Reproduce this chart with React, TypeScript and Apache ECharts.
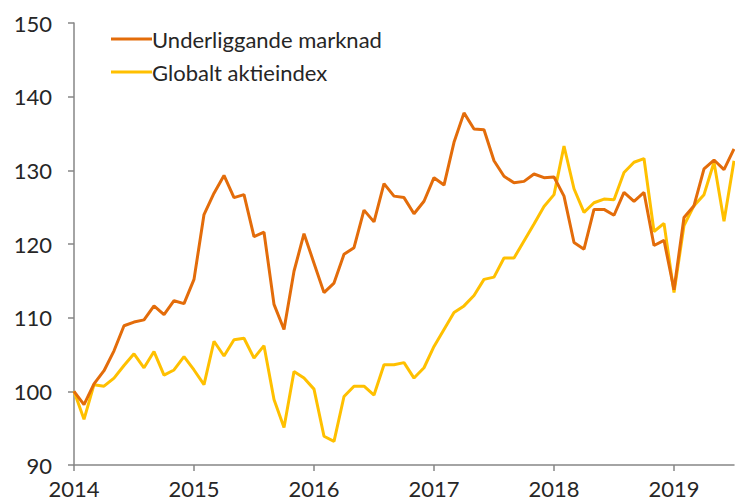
import React, { useEffect, useRef } from "react";
import * as echarts from "echarts";

const years = [2014, 2015, 2016, 2017, 2018, 2019];
const months: string[] = [];
for (let y = 2014; y <= 2019; y++) {
  for (let m = 1; m <= 12; m++) {
    if (y === 2019 && m > 7) break;
    months.push(`${y}-${String(m).padStart(2, "0")}`);
  }
}

const seriesNames = ["Underliggande marknad", "Globalt aktieindex"];

const underliggande = [
  100, 98.2, 101, 102.8, 105.5, 108.9, 109.4, 109.7, 111.6, 110.4, 112.3, 111.9,
  115.2, 124.0, 126.9, 129.3, 126.3, 126.7, 121.0, 121.6, 111.8, 108.4, 116.3, 121.4,
  117.4, 113.4, 114.7, 118.6, 119.5, 124.6, 123.0, 128.2, 126.5, 126.3, 124.1, 125.8,
  129.0, 128.0, 133.8, 137.8, 135.6, 135.5, 131.3, 129.2, 128.3, 128.5, 129.5, 129.0,
  129.1, 126.5, 120.2, 119.3, 124.7, 124.7, 123.9, 127.0, 125.8, 127.0, 119.8, 120.5,
  113.8, 123.6, 125.2, 130.2, 131.4, 130.1, 132.9,
];

const globalt = [
  100, 96.2, 100.9, 100.7, 101.8, 103.5, 105.1, 103.2, 105.4, 102.2, 102.9, 104.7,
  102.9, 100.9, 106.8, 104.8, 107.0, 107.2, 104.5, 106.2, 98.9, 95.1, 102.7, 101.8,
  100.3, 93.9, 93.2, 99.3, 100.7, 100.7, 99.5, 103.6, 103.6, 103.9, 101.8, 103.2,
  106.1, 108.4, 110.7, 111.6, 113.0, 115.2, 115.5, 118.1, 118.1, 120.4, 122.7, 125.1,
  126.7, 133.3, 127.5, 124.3, 125.6, 126.1, 126.0, 129.7, 131.1, 131.6, 121.7, 122.8,
  113.4, 122.5, 125.2, 126.7, 131.1, 123.1, 131.3,
];

const FONT = "Lato";
const TEXT_COLOR = "#262626";
const AXIS_COLOR = "#868686";

export default function App() {
  const ref = useRef<HTMLDivElement>(null);
  useEffect(() => {
    if (!ref.current) return;
    const chart = echarts.init(ref.current, undefined, { renderer: "svg" });
    chart.setOption({
      animation: false,
      grid: { left: 74, right: 1, top: 23, bottom: 39, containLabel: false },
      legend: {
        orient: "vertical",
        left: 106,
        top: 23,
        itemWidth: 41,
        itemHeight: 3,
        itemGap: 11,
        icon: "rect",
        textStyle: {
          fontFamily: FONT,
          fontSize: 22,
          color: TEXT_COLOR,
          lineHeight: 22,
          padding: [0, 0, 0, -5],
        },
        data: seriesNames,
      },
      xAxis: {
        type: "category",
        data: months,
        boundaryGap: false,
        axisLine: { lineStyle: { color: AXIS_COLOR, width: 1.5 } },
        axisTick: {
          show: true,
          length: 6,
          interval: (i: number) => i % 12 === 0,
          lineStyle: { color: AXIS_COLOR, width: 1.5 },
        },
        axisLabel: {
          interval: (i: number) => i % 12 === 0,
          formatter: (v: string) => {
            const y = Number(v.slice(0, 4));
            return years.includes(y) ? String(y) : "";
          },
          fontFamily: FONT,
          fontSize: 22,
          color: TEXT_COLOR,
          margin: 12,
        },
        splitLine: { show: false },
      },
      yAxis: {
        type: "value",
        min: 90,
        max: 150,
        interval: 10,
        axisLine: { show: true, lineStyle: { color: AXIS_COLOR, width: 1.5 } },
        axisTick: { show: true, length: 6, lineStyle: { color: AXIS_COLOR, width: 1.5 } },
        axisLabel: { fontFamily: FONT, fontSize: 22, color: TEXT_COLOR, margin: 22 },
        splitLine: { show: false },
      },
      series: [
        {
          name: seriesNames[0],
          type: "line",
          data: underliggande,
          showSymbol: false,
          symbol: "none",
          lineStyle: { color: "#E36C0A", width: 3 },
          itemStyle: { color: "#E36C0A" },
          z: 3,
        },
        {
          name: seriesNames[1],
          type: "line",
          data: globalt,
          showSymbol: false,
          symbol: "none",
          lineStyle: { color: "#FFC000", width: 3 },
          itemStyle: { color: "#FFC000" },
          z: 2,
        },
      ],
    });
    return () => chart.dispose();
  }, []);
  return <div ref={ref} style={{ width: 735, height: 504, position: "absolute", left: 0, top: 0 }} />;
}
